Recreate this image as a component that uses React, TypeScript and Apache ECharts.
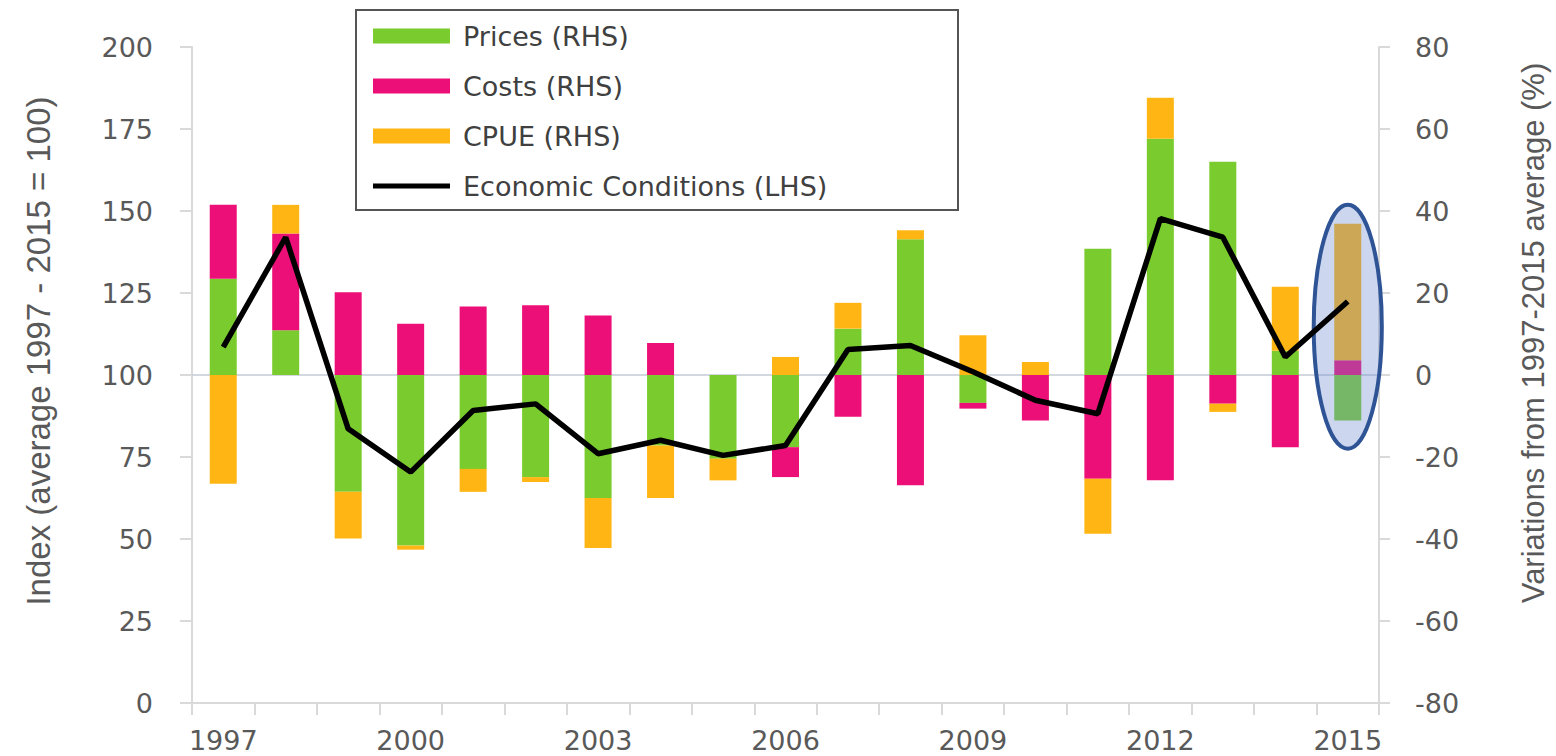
import React, { useEffect, useRef } from "react";
import * as echarts from "echarts";

const YEARS = [
  "1997", "1998", "1999", "2000", "2001", "2002", "2003", "2004", "2005", "2006",
  "2007", "2008", "2009", "2010", "2011", "2012", "2013", "2014", "2015",
];
const PRICES = [23.5, 10.9, -28.5, -41.6, -22.9, -24.9, -30, -17.2, -20.4, -17.6, 11.3, 33.1, -6.8, 0, 30.8, 57.6, 52, 5.9, -11.1];
const COSTS = [18, 23.6, 20.2, 12.5, 16.7, 17, 14.5, 7.8, 0, -7.3, -10.2, -26.9, -1.4, -11.1, -25.3, -25.7, -7, -17.6, 3.6];
const CPUE = [-26.5, 7, -11.4, -1, -5.6, -1.2, -12.2, -12.8, -5.3, 4.4, 6.3, 2.2, 9.7, 3.2, -13.4, 10, -2, 15.6, 33.3];
const ECONOMIC = [108.5, 142, 83.6, 70.4, 89.2, 91.2, 76, 80.1, 75.5, 78.5, 107.8, 109, 101, 92.3, 88.2, 147.7, 142, 105.5, 122.4];

const SERIES_NAMES = ["Prices (RHS)", "Costs (RHS)", "CPUE (RHS)", "Economic Conditions (LHS)"];
const LEFT_TITLE = "Index (average 1997 - 2015 = 100)";
const RIGHT_TITLE = "Variations from 1997-2015 average (%)";
const LEFT_AXIS = { min: 0, max: 200, interval: 25 };
const RIGHT_AXIS = { min: -80, max: 80, interval: 20 };
const HIGHLIGHT_YEAR = "2015";
const HIGHLIGHT_SPAN = [-18, 41.5];

// thin horizontal band icon (invisible zero-area points keep the full icon box)
const LINE_ICON = "path://M0,0L0.01,0ZM0,5H77V10H0ZM0,15L0.01,15Z";

export default function App() {
  const ref = useRef<HTMLDivElement>(null);

  useEffect(() => {
    document.body.style.margin = "0";
    document.body.style.overflow = "hidden";
    const chart = echarts.init(ref.current!, undefined, { renderer: "svg" });
    const font = "'DejaVu Sans', Verdana, sans-serif";
    const titleFont = "'Liberation Sans', Arial, sans-serif";
    const axisGray = "#d9d9d9";
    const labelColor = "#595959";

    const barCommon = {
      type: "bar",
      stack: "rhs",
      yAxisIndex: 1,
      barWidth: 27,
      z: 2,
    };

    chart.setOption({
      animation: false,
      backgroundColor: "#ffffff",
      grid: { left: 192, right: 177, top: 47, bottom: 53, containLabel: false },
      legend: {
        orient: "vertical",
        left: 356,
        top: 10,
        padding: [11, 15, 9, 17],
        itemGap: 20,
        itemWidth: 77,
        itemHeight: 15,
        borderColor: "#555555",
        borderWidth: 2,
        backgroundColor: "#ffffff",
        textStyle: {
          fontFamily: font,
          fontSize: 27,
          color: "#404040",
          width: 480,
          lineHeight: 30,
          padding: [0, 0, 0, 8],
        },
        data: [
          { name: SERIES_NAMES[0], icon: "rect" },
          { name: SERIES_NAMES[1], icon: "rect" },
          { name: SERIES_NAMES[2], icon: "rect" },
          { name: SERIES_NAMES[3], icon: LINE_ICON, itemStyle: { color: "#000000" } },
        ],
      },
      xAxis: {
        type: "category",
        data: YEARS,
        boundaryGap: true,
        axisLine: { show: true, lineStyle: { color: axisGray, width: 2 } },
        axisTick: { show: true, interval: 0, alignWithLabel: false, length: 12, lineStyle: { color: axisGray, width: 2 } },
        axisLabel: { interval: 2, margin: 24, fontFamily: font, fontSize: 27, color: labelColor },
        splitLine: { show: false },
      },
      yAxis: [
        {
          type: "value",
          position: "left",
          min: LEFT_AXIS.min,
          max: LEFT_AXIS.max,
          interval: LEFT_AXIS.interval,
          axisLine: { show: true, lineStyle: { color: axisGray, width: 2 } },
          axisTick: { show: true, length: 12, lineStyle: { color: axisGray, width: 2 } },
          axisLabel: { margin: 39, fontFamily: font, fontSize: 27, color: labelColor },
          splitLine: { show: false },
        },
        {
          type: "value",
          position: "right",
          min: RIGHT_AXIS.min,
          max: RIGHT_AXIS.max,
          interval: RIGHT_AXIS.interval,
          axisLine: { show: true, lineStyle: { color: axisGray, width: 2 } },
          axisTick: { show: true, length: 11, lineStyle: { color: axisGray, width: 2 } },
          axisLabel: { margin: 36, fontFamily: font, fontSize: 27, color: labelColor },
          splitLine: { show: false },
        },
      ],
      series: [
        {
          ...barCommon,
          name: SERIES_NAMES[0],
          data: PRICES,
          itemStyle: { color: "#7acc2e" },
          markLine: {
            silent: true,
            symbol: "none",
            z: 1,
            label: { show: false },
            lineStyle: { color: "#c5cad6", width: 1.5, type: "solid" },
            data: [{ yAxis: 0 }],
          },
        },
        { ...barCommon, name: SERIES_NAMES[1], data: COSTS, itemStyle: { color: "#ec0f78" } },
        { ...barCommon, name: SERIES_NAMES[2], data: CPUE, itemStyle: { color: "#ffb614" } },
        {
          type: "line",
          name: SERIES_NAMES[3],
          yAxisIndex: 0,
          data: ECONOMIC,
          symbol: "none",
          z: 10,
          lineStyle: { color: "#000000", width: 5.5 },
          itemStyle: { color: "#000000" },
        },
      ],
    });

    const top = chart.convertToPixel({ seriesIndex: 0 }, [HIGHLIGHT_YEAR, HIGHLIGHT_SPAN[1]]) as number[];
    const bottom = chart.convertToPixel({ seriesIndex: 0 }, [HIGHLIGHT_YEAR, HIGHLIGHT_SPAN[0]]) as number[];
    const idx = YEARS.indexOf(HIGHLIGHT_YEAR);
    const prev = chart.convertToPixel({ seriesIndex: 0 }, [YEARS[idx - 1], 0]) as number[];
    const band = top[0] - prev[0];
    const gridTop = chart.convertToPixel({ yAxisIndex: 0 }, LEFT_AXIS.max) as unknown as number;
    const gridBottom = chart.convertToPixel({ yAxisIndex: 0 }, LEFT_AXIS.min) as unknown as number;
    const midY = (gridTop + gridBottom) / 2;

    chart.setOption({
      graphic: [
        {
          type: "ellipse",
          z: 5,
          silent: true,
          shape: { cx: top[0], cy: (top[1] + bottom[1]) / 2, rx: band * 0.545, ry: (bottom[1] - top[1]) / 2 },
          style: { fill: "rgba(110,140,210,0.35)", stroke: "#2f5496", lineWidth: 4 },
        },
        {
          type: "text",
          x: 38.5,
          y: midY - 24,
          rotation: Math.PI / 2,
          style: {
            text: LEFT_TITLE,
            fontFamily: titleFont,
            fontSize: 33,
            fill: labelColor,
            align: "center",
            verticalAlign: "middle",
          },
        },
        {
          type: "text",
          x: 1533,
          y: midY - 42,
          rotation: Math.PI / 2,
          style: {
            text: RIGHT_TITLE,
            fontFamily: titleFont,
            fontSize: 31,
            fill: labelColor,
            align: "center",
            verticalAlign: "middle",
          },
        },
      ],
    });

    return () => chart.dispose();
  }, []);

  return <div ref={ref} style={{ width: 1556, height: 756 }} />;
}
